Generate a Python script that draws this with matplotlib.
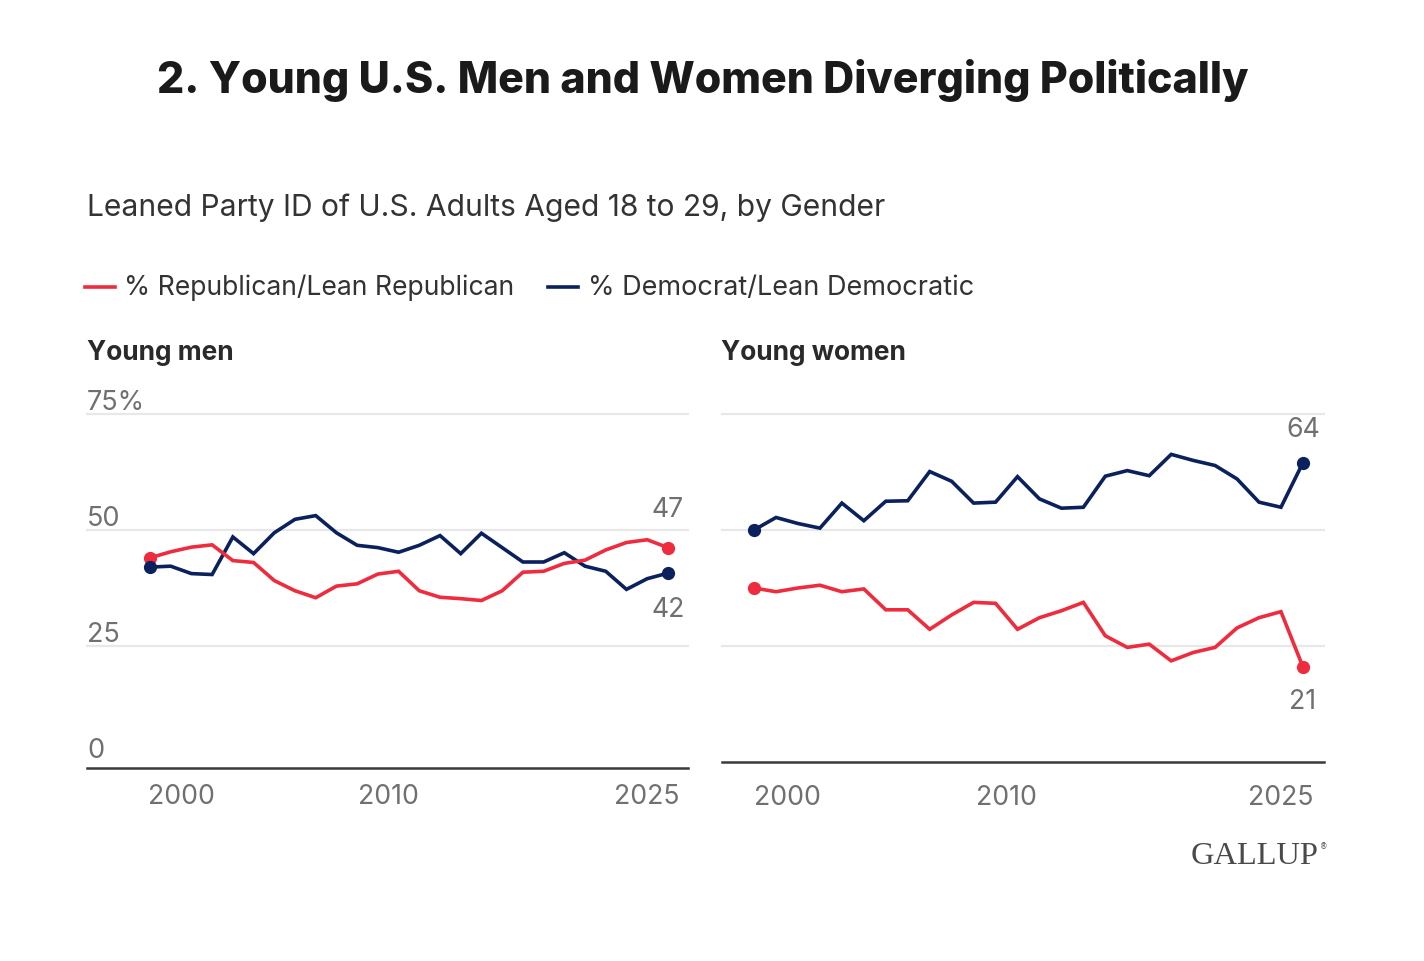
import numpy as np
import matplotlib.pyplot as plt

plt.rcParams['font.family'] = ['Inter', 'DejaVu Sans']

#%% data, one value per survey year

tick_labels = ['2000', '2010', '2025']
tick_pos = [1.5, 11.5, 24]   # where the original puts its year labels

men_rep = [44.0, 45.3, 46.3, 46.8, 43.4, 43.0, 39.1, 36.9, 35.4, 37.9,
           38.4, 40.5, 41.1, 36.9, 35.5, 35.2, 34.8, 36.9, 40.9, 41.1,
           42.8, 43.5, 45.7, 47.3, 47.9, 46.2]
men_dem = [42.0, 42.2, 40.6, 40.4, 48.5, 44.9, 49.4, 52.3, 53.1, 49.4,
           46.7, 46.2, 45.2, 46.7, 48.8, 44.9, 49.3, 46.2, 43.1, 43.1,
           45.1, 42.2, 41.1, 37.2, 39.5, 40.7]
women_rep = [37.5, 36.7, 37.5, 38.1, 36.7, 37.3, 32.8, 32.8, 28.6, 31.7,
             34.4, 34.2, 28.6, 31.1, 32.6, 34.4, 27.2, 24.7, 25.4, 21.8,
             23.6, 24.7, 28.9, 31.1, 32.4, 20.5]
women_dem = [50.0, 52.7, 51.4, 50.4, 55.8, 52.0, 56.2, 56.3, 62.6, 60.5,
             55.8, 56.0, 61.5, 56.7, 54.7, 54.9, 61.6, 62.8, 61.7, 66.3,
             65.0, 63.9, 61.0, 56.0, 54.9, 64.5]

men_end = ['47', '42']
women_end = ['21', '64']

RED = '#EF2B3E'
BLUE = '#0B215E'
GREY = '#707070'

#%% figure, positions in pixels of a 1424x962 canvas

W, H = 1424, 962
fig = plt.figure(figsize=(W / 100, H / 100), dpi=100)

def px_axes(x0, x1, y_top, y_bot):
    return fig.add_axes([x0 / W, 1 - y_bot / H, (x1 - x0) / W, (y_bot - y_top) / H])

ax_m = px_axes(87, 688, 415, 769)
ax_w = px_axes(722, 1324, 415, 763)

ax_m.set_ylim(-1.3, 75)
ax_w.set_ylim(0, 75)
ax_m.set_xlim(-3.04, 25.97)
ax_w.set_xlim(-1.46, 25.96)

def draw_panel(ax, rep, dem, pad):
    xx = np.arange(len(rep))
    for yy in [25, 50, 75]:
        ax.axhline(yy, color='#e8e8e8', lw=1.6, zorder=0, clip_on=False)
    ax.plot(xx, dem, color=BLUE, lw=2.6, solid_joinstyle='miter', zorder=3)
    ax.plot(xx, rep, color=RED, lw=2.6, solid_joinstyle='miter', zorder=3)
    for s, c in [(rep, RED), (dem, BLUE)]:
        ax.plot([xx[0], xx[-1]], [s[0], s[-1]], 'o', color=c, ms=8.5,
                zorder=4, clip_on=False)
    for side in ['top', 'right', 'left']:
        ax.spines[side].set_visible(False)
    ax.spines['bottom'].set_color('#3a3a3a')
    ax.spines['bottom'].set_linewidth(1.8)
    ax.set_yticks([])
    ax.set_xticks(tick_pos)
    ax.set_xticklabels(tick_labels, fontsize=19.2, color=GREY)
    ax.tick_params(axis='x', length=0, pad=pad)

draw_panel(ax_m, men_rep, men_dem, 11)
draw_panel(ax_w, women_rep, women_dem, 16)

# y labels of the left panel sit above their gridlines
for yy, lab in zip([75, 50, 25, 0], ['75%', '50', '25', '0']):
    ax_m.text(-3.04, yy - 0.2, lab, fontsize=19.5, color=GREY,
              ha='left', va='bottom')

# end labels
n = len(men_rep) - 1
ax_m.text(n, men_rep[-1] + 5.5, men_end[0], fontsize=19.2, color=GREY,
          ha='center', va='bottom')
ax_m.text(n, men_dem[-1] - 5.0, men_end[1], fontsize=19.2, color=GREY,
          ha='center', va='top')
ax_w.text(n, women_rep[-1] - 4.5, women_end[0], fontsize=19.2, color=GREY,
          ha='center', va='top')
ax_w.text(n, women_dem[-1] + 4.5, women_end[1], fontsize=19.2, color=GREY,
          ha='center', va='bottom')

# titles
fig.text(703 / W, 1 - 80 / H, '2. Young U.S. Men and Women Diverging Politically',
         fontsize=30.9, fontweight='heavy', color='#1a1a1a', ha='center', va='center')
fig.text(87 / W, 1 - 208 / H, 'Leaned Party ID of U.S. Adults Aged 18 to 29, by Gender',
         fontsize=21.6, color='#333333', ha='left', va='center')

# legend
fig.lines.append(plt.Line2D([85 / W, 115 / W], [1 - 288 / H] * 2, color=RED, lw=2.6,
                            transform=fig.transFigure))
fig.text(124 / W, 1 - 288 / H, '% Republican/Lean Republican', fontsize=19.1,
         color='#333333', ha='left', va='center')
fig.lines.append(plt.Line2D([548 / W, 578 / W], [1 - 288 / H] * 2, color=BLUE, lw=2.6,
                            transform=fig.transFigure))
fig.text(588 / W, 1 - 288 / H, '% Democrat/Lean Democratic', fontsize=19.5,
         color='#333333', ha='left', va='center')

fig.text(87 / W, 1 - 353 / H, 'Young men', fontsize=18.9, fontweight='bold',
         color='#2a2a2a', ha='left', va='center')
fig.text(721 / W, 1 - 353 / H, 'Young women', fontsize=18.9, fontweight='bold',
         color='#2a2a2a', ha='left', va='center')

# logo
fig.text(1318 / W, 1 - 857 / H, 'GALLUP', family='Liberation Serif', fontsize=23.4,
         color='#4a4a4a', ha='right', va='center')
fig.text(1320 / W, 1 - 847 / H, '®', family='DejaVu Sans', fontsize=5.5,
         color='#4a4a4a', ha='left', va='center')

fig.savefig('out.png', dpi=100, facecolor='white')
